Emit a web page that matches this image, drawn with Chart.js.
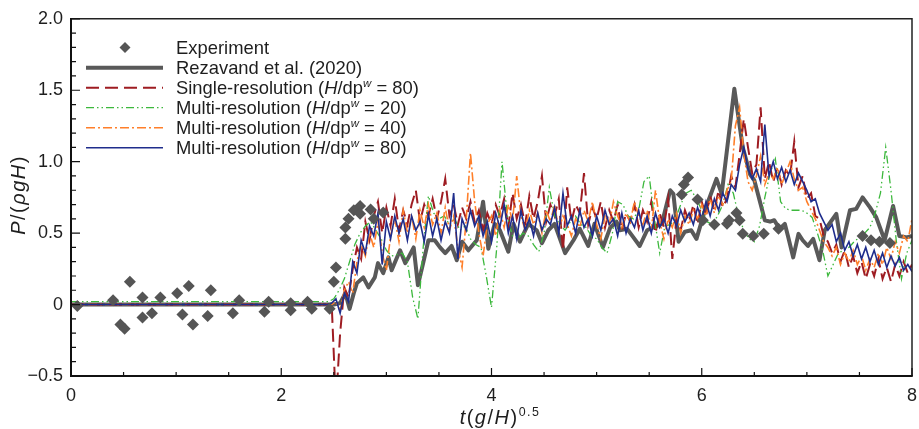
<!DOCTYPE html>
<html>
<head>
<meta charset="utf-8">
<script src="https://cdn.jsdelivr.net/npm/chart.js@4.4.1/dist/chart.umd.min.js"></script>
<style>
  html, body { margin: 0; padding: 0; background: #fff; }
  #wrap { width: 919px; height: 429px; }
</style>
</head>
<body>
<div id="wrap"><canvas id="pressureChart" width="919" height="429"></canvas></div>
<script>
// values: t(g/H)^0.5 on x, P/(rho g H) on y

// experiment (diamonds)
const expT = [0.06, 0.40, 0.47, 0.51, 0.56, 0.68, 0.68, 0.77, 0.85, 1.01, 1.06, 1.12, 1.16, 1.30, 1.33,
  1.54, 1.60, 1.84, 1.88, 2.09, 2.09, 2.25, 2.29, 2.46, 2.50, 2.52, 2.61, 2.61, 2.64, 2.69, 2.75, 2.75,
  2.85, 2.88, 2.97, 5.81, 5.83, 5.87, 5.96, 6.01, 6.12, 6.24, 6.26, 6.33, 6.36, 6.39, 6.49, 6.59, 6.73,
  7.53, 7.61, 7.69, 7.79]
const expP = [-0.01, 0.03, -0.14, -0.17, 0.16, 0.05, -0.09, -0.06, 0.05, 0.08, -0.07, 0.13, -0.14, -0.08, 0.10,
  -0.06, 0.03, -0.05, 0.02, 0.01, -0.04, 0.02, -0.03, -0.03, 0.16, 0.26, 0.46, 0.54, 0.60, 0.66, 0.69, 0.635,
  0.665, 0.60, 0.645, 0.77, 0.84, 0.89, 0.735, 0.59, 0.56, 0.565, 0.59, 0.64, 0.59, 0.495, 0.48, 0.495, 0.53,
  0.48, 0.45, 0.44, 0.43]

// Rezavand et al. (2020)
const rezT = [0, 2.50, 2.56, 2.61, 2.65, 2.69, 2.72, 2.78, 2.83, 2.89, 2.92, 2.97, 3.02, 3.05, 3.13, 3.18,
  3.21, 3.26, 3.30, 3.35, 3.40, 3.46, 3.51, 3.56, 3.62, 3.67, 3.72, 3.78, 3.86, 3.92, 3.97, 4.03, 4.08,
  4.16, 4.21, 4.27, 4.35, 4.43, 4.48, 4.54, 4.60, 4.70, 4.78, 4.84, 4.92, 4.98, 5.06, 5.13, 5.19, 5.22,
  5.29, 5.35, 5.41, 5.48, 5.54, 5.62, 5.70, 5.73, 5.78, 5.84, 5.90, 5.95, 6.03, 6.14, 6.19, 6.31, 6.39,
  6.46, 6.50, 6.55, 6.60, 6.65, 6.69, 6.74, 6.79, 6.82, 6.87, 6.92, 6.96, 7.01, 7.06, 7.12, 7.17, 7.28,
  7.33, 7.41, 7.47, 7.53, 7.60, 7.66, 7.74, 7.82, 7.88, 7.95, 8.00]
const rezP = [0, 0, 0.01, 0.08, -0.03, 0.08, 0.15, 0.19, 0.12, 0.19, 0.29, 0.22, 0.33, 0.24, 0.38, 0.29,
  0.33, 0.40, 0.135, 0.29, 0.45, 0.45, 0.40, 0.36, 0.41, 0.31, 0.44, 0.38, 0.45, 0.72, 0.39, 0.565, 0.52,
  0.37, 0.565, 0.44, 0.565, 0.52, 0.43, 0.52, 0.565, 0.36, 0.45, 0.53, 0.41, 0.565, 0.40, 0.54, 0.58, 0.52,
  0.53, 0.47, 0.41, 0.52, 0.54, 0.565, 0.80, 0.775, 0.44, 0.51, 0.52, 0.46, 0.66, 0.88, 0.775, 1.51, 1.10,
  0.91, 0.87, 0.73, 0.59, 0.58, 0.59, 0.53, 0.565, 0.48, 0.33, 0.495, 0.45, 0.41, 0.46, 0.31, 0.52, 0.635,
  0.40, 0.66, 0.67, 0.75, 0.68, 0.61, 0.45, 0.69, 0.48, 0.47, 0.48]

// sampled runs (every 0.04 from t = 2.44, flat zero before)
const fineStart = 2.44
const fineStep = 0.04
const singleRes80 = [
  0.00, 0.00, -0.70, -0.20, 0.12, 0.05, 0.25, 0.40, 0.32, 0.58, 0.45, 0.62, 0.72, 0.50, 0.68, 0.55, 0.74, 0.52, 0.66, 0.56, 0.70, 0.80, 0.58, 0.70, 0.62,
  0.74, 0.60, 0.72, 0.88, 0.62, 0.70, 0.56, 0.68, 0.60, 0.72, 0.58, 0.66, 0.52, 0.64, 0.56, 0.70, 0.62, 0.74, 0.54, 0.78, 0.60, 0.70, 0.56, 0.76, 0.60,
  0.72, 0.90, 0.58, 0.70, 0.62, 0.74, 0.38, 0.82, 0.58, 0.70, 0.64, 0.92, 0.56, 0.68, 0.60, 0.72, 0.54, 0.66, 0.58, 0.70, 0.52, 0.64, 0.58, 0.70, 0.54,
  0.66, 0.58, 0.72, 0.50, 0.64, 0.54, 0.74, 0.32, 0.60, 0.52, 0.66, 0.58, 0.70, 0.56, 0.72, 0.62, 0.76, 0.66, 0.80, 0.68, 0.74, 0.90, 0.82, 1.05, 1.30,
  1.10, 0.92, 0.98, 1.38, 0.88, 1.00, 0.86, 0.96, 0.84, 0.94, 0.90, 1.14, 0.82, 0.90, 0.74, 0.78, 0.62, 0.60, 0.48, 0.44, 0.36, 0.42, 0.30, 0.38, 0.26,
  0.34, 0.22, 0.30, 0.18, 0.28, 0.20, 0.32, 0.18, 0.26, 0.16, 0.28, 0.20, 0.30, 0.22, 0.28]
const multiRes40 = [
  0.00, 0.00, 0.02, -0.04, 0.10, 0.16, 0.08, 0.30, 0.42, 0.34, 0.50, 0.40, 0.58, 0.36, 0.24, 0.48, 0.60, 0.44, 0.66, 0.50, 0.62, 0.46, 0.66, 0.54, 0.70,
  0.56, 0.64, 0.50, 0.68, 0.52, 0.62, 0.40, 0.26, 0.60, 1.06, 0.72, 0.50, 0.34, 0.56, 0.62, 0.48, 0.66, 0.54, 0.70, 0.58, 0.90, 0.62, 0.52, 0.66, 0.56,
  0.64, 0.50, 0.66, 0.58, 0.70, 0.52, 0.62, 0.56, 0.48, 0.60, 0.54, 0.66, 0.58, 0.72, 0.56, 0.46, 0.62, 0.56, 0.72, 0.62, 0.54, 0.64, 0.58, 0.72, 0.62,
  0.56, 0.66, 0.52, 0.80, 0.58, 0.46, 0.60, 0.54, 0.64, 0.50, 0.62, 0.56, 0.66, 0.60, 0.70, 0.62, 0.74, 0.64, 0.76, 0.70, 0.80, 0.86, 1.25, 1.38, 1.06,
  0.86, 0.80, 0.90, 1.04, 0.84, 0.92, 0.88, 0.96, 0.84, 0.92, 1.00, 0.88, 0.80, 0.82, 0.72, 0.66, 0.60, 0.52, 0.44, 0.40, 0.34, 0.40, 0.28, 0.36, 0.30,
  0.38, 0.28, 0.34, 0.24, 0.32, 0.26, 0.36, 0.28, 0.40, 0.32, 0.44, 0.36, 0.48, 0.44, 0.60]
const multiRes80 = [
  0.00, 0.01, 0.04, -0.06, 0.08, 0.02, 0.30, 0.22, 0.45, 0.36, 0.55, 0.48, 0.64, 0.28, 0.58, 0.46, 0.62, 0.50, 0.60, 0.45, 0.62, 0.52, 0.58, 0.44, 0.63,
  0.48, 0.60, 0.45, 0.58, 0.50, 0.78, 0.32, 0.60, 0.52, 0.66, 0.55, 0.62, 0.48, 0.58, 0.44, 0.64, 0.54, 0.70, 0.50, 0.62, 0.46, 0.66, 0.52, 0.60, 0.48,
  0.64, 0.52, 0.60, 0.56, 0.68, 0.50, 0.78, 0.55, 0.62, 0.50, 0.66, 0.54, 0.60, 0.48, 0.62, 0.52, 0.66, 0.56, 0.60, 0.48, 0.64, 0.50, 0.60, 0.54, 0.66,
  0.52, 0.62, 0.50, 0.64, 0.54, 0.60, 0.50, 0.62, 0.55, 0.66, 0.58, 0.64, 0.56, 0.68, 0.60, 0.72, 0.62, 0.74, 0.66, 0.78, 0.72, 0.84, 0.80, 0.98, 1.10,
  0.95, 0.88, 0.95, 0.86, 1.26, 0.90, 1.00, 0.88, 0.96, 0.86, 0.94, 0.84, 0.92, 0.86, 0.80, 0.72, 0.74, 0.64, 0.58, 0.52, 0.56, 0.44, 0.50, 0.38, 0.44,
  0.34, 0.42, 0.32, 0.40, 0.30, 0.38, 0.28, 0.36, 0.26, 0.34, 0.27, 0.33, 0.24, 0.28, 0.23]

// coarse run (every 0.05 from t = 2.45)
const coarseStart = 2.45
const coarseStep = 0.05
const multiRes20 = [
  0.02, 0.04, 0.10, 0.18, 0.30, 0.42, 0.50, 0.55, 0.58, 0.52,
  0.46, 0.38, 0.34, 0.35, 0.36, 0.30, 0.05, -0.10, 0.40, 0.76,
  0.64, 0.60, 0.62, 0.56, 0.60, 0.52, 0.55, 0.46, 0.42, 0.40,
  0.20, -0.02, 0.40, 1.00, 0.62, 0.48, 0.46, 0.50, 0.48, 0.42,
  0.37, 0.50, 0.82, 0.62, 0.56, 0.52, 0.58, 0.62, 0.56, 0.54,
  0.48, 0.46, 0.40, 0.36, 0.50, 0.72, 0.70, 0.62, 0.60, 0.66,
  0.86, 0.90, 0.60, 0.36, 0.55, 0.56, 0.60, 0.70, 0.78, 0.80,
  0.74, 0.66, 0.58, 0.56, 0.62, 0.70, 0.84, 0.78, 0.62, 0.52,
  0.46, 0.44, 0.55, 0.75, 0.92, 1.02, 0.72, 0.67, 0.66, 0.66,
  0.66, 0.64, 0.61, 0.50, 0.38, 0.20, 0.28, 0.36, 0.38, 0.40,
  0.44, 0.47, 0.50, 0.54, 0.64, 0.78, 1.10, 0.80, 0.45, 0.18,
  0.36, 0.45]

const xTickValues = [0, 2, 4, 6, 8]
const xTickLabels = ["0", "2", "4", "6", "8"]
const yTickValues = [-0.5, 0, 0.5, 1.0, 1.5, 2.0]
const yTickLabels = ["\u22120.5", "0", "0.5", "1.0", "1.5", "2.0"]

const FONT = '"Liberation Sans", Arial, Helvetica, sans-serif'
const TEXT = "#1e1e1e"

function pairUp(ts, ps) {
  return ts.map((t, i) => ({ x: t, y: ps[i] }))
}

function sampled(start, step, vals) {
  const pts = [{ x: 0, y: vals[0] }]
  vals.forEach((v, i) => pts.push({ x: Math.round((start + i * step) * 1000) / 1000, y: v }))
  return pts
}

// legend rows: text runs, H italic and w superscript
function hdpRuns(prefix, n) {
  return [
    { t: prefix + " (" },
    { t: "H", it: true },
    { t: "/dp" },
    { t: "w", it: true, sup: true },
    { t: " = " + n + ")" },
  ]
}

const datasets = [
  {
    label: "Experiment",
    data: pairUp(expT, expP),
    showLine: false,
    pointStyle: "rectRot",
    pointRadius: 6,
    pointBackgroundColor: "#555555",
    pointBorderWidth: 0,
    order: 0,
    legendRuns: [{ t: "Experiment" }],
  },
  {
    label: "Rezavand et al. (2020)",
    data: pairUp(rezT, rezP),
    borderColor: "#595959",
    borderWidth: 4,
    borderJoinStyle: "round",
    order: 6,
    legendRuns: [{ t: "Rezavand et al. (2020)" }],
  },
  {
    label: "Single-resolution",
    data: sampled(fineStart, fineStep, singleRes80),
    borderColor: "#9e1c22",
    borderWidth: 2,
    borderDash: [13, 6],
    order: 5,
    legendRuns: hdpRuns("Single-resolution", 80),
  },
  {
    label: "Multi-resolution 20",
    data: sampled(coarseStart, coarseStep, multiRes20),
    borderColor: "#3cb83c",
    borderWidth: 1.3,
    borderDash: [8, 3, 1.5, 3, 1.5, 3],
    order: 4,
    legendRuns: hdpRuns("Multi-resolution", 20),
  },
  {
    label: "Multi-resolution 40",
    data: sampled(fineStart, fineStep, multiRes40),
    borderColor: "#ff7f2a",
    borderWidth: 1.6,
    borderDash: [9, 3, 2, 3],
    order: 3,
    legendRuns: hdpRuns("Multi-resolution", 40),
  },
  {
    label: "Multi-resolution 80",
    data: sampled(fineStart, fineStep, multiRes80),
    borderColor: "#1f2d8c",
    borderWidth: 1.6,
    order: 2,
    legendRuns: hdpRuns("Multi-resolution", 80),
  },
]

function setFont(ctx, r, size) {
  const fs = r.sup ? size * 0.62 : size
  ctx.font = (r.it ? "italic " : "") + fs + "px " + FONT
}

function runsWidth(ctx, runs, size) {
  let w = 0
  runs.forEach((r) => {
    setFont(ctx, r, size)
    w += ctx.measureText(r.t).width
  })
  return w
}

function drawRuns(ctx, runs, x, y, size) {
  let cx = x
  ctx.textAlign = "left"
  ctx.textBaseline = "alphabetic"
  runs.forEach((r) => {
    setFont(ctx, r, size)
    ctx.fillText(r.t, cx, r.sup ? y - size * 0.42 : y)
    cx += ctx.measureText(r.t).width
  })
}

const framePlugin = {
  id: "frameAndLegend",
  afterDraw(chart) {
    const { ctx, chartArea: a, scales } = chart
    const xs = scales.x
    const ys = scales.y
    ctx.save()

    // box round the plot
    ctx.strokeStyle = "#222"
    ctx.lineWidth = 1.5
    ctx.beginPath()
    ctx.moveTo(a.left, a.top)
    ctx.lineTo(a.right, a.top)
    ctx.lineTo(a.right, a.bottom)
    ctx.stroke()
    ctx.strokeStyle = "#111"
    ctx.lineWidth = 2
    ctx.beginPath()
    ctx.moveTo(a.left, a.top - 0.75)
    ctx.lineTo(a.left, a.bottom)
    ctx.lineTo(a.right + 0.75, a.bottom)
    ctx.stroke()

    // inward tick marks
    ctx.lineWidth = 1.2
    ctx.beginPath()
    for (let k = 0; k <= 16; k++) {
      const px = xs.getPixelForValue(k / 2)
      const len = k % 4 === 0 ? 8 : 4
      ctx.moveTo(px, a.bottom)
      ctx.lineTo(px, a.bottom - len)
    }
    for (let k = -5; k <= 20; k++) {
      const py = ys.getPixelForValue(k / 10)
      const len = k % 5 === 0 ? 9 : 5
      ctx.moveTo(a.left, py)
      ctx.lineTo(a.left + len, py)
    }
    ctx.stroke()

    // legend
    const rowY = [47.5, 67.7, 87.7, 107.7, 127.7, 147.7]
    const lineX0 = 86
    const lineX1 = 163
    const textX = 176
    const size = 18.4
    chart.data.datasets.forEach((ds, i) => {
      const y = rowY[i]
      if (ds.showLine === false) {
        const cx = 125
        const r = 5.5
        ctx.fillStyle = ds.pointBackgroundColor
        ctx.beginPath()
        ctx.moveTo(cx, y - r)
        ctx.lineTo(cx + r, y)
        ctx.lineTo(cx, y + r)
        ctx.lineTo(cx - r, y)
        ctx.closePath()
        ctx.fill()
      } else {
        ctx.strokeStyle = ds.borderColor
        ctx.lineWidth = ds.borderWidth
        ctx.setLineDash(ds.borderDash || [])
        ctx.beginPath()
        ctx.moveTo(lineX0, y)
        ctx.lineTo(lineX1, y)
        ctx.stroke()
        ctx.setLineDash([])
      }
      ctx.fillStyle = TEXT
      drawRuns(ctx, ds.legendRuns, textX, y + 6.6, size)
    })

    // axis titles, a little wider set than the tick text
    ctx.fillStyle = TEXT
    ctx.letterSpacing = "1.5px"
    const tsize = 20
    const xRuns = [{ t: "t", it: true }, { t: "(" }, { t: "g", it: true }, { t: "/" }, { t: "H", it: true }, { t: ")" }, { t: "0.5", sup: true }]
    const xw = runsWidth(ctx, xRuns, tsize)
    drawRuns(ctx, xRuns, 500 - xw / 2, 424, tsize)

    const yRuns = [{ t: "P", it: true }, { t: "/(" }, { t: "\u03c1gH", it: true }, { t: ")" }]
    const yw = runsWidth(ctx, yRuns, tsize)
    ctx.translate(25, 195)
    ctx.rotate(-Math.PI / 2)
    drawRuns(ctx, yRuns, -yw / 2, 0, tsize)

    ctx.restore()
  },
}

new Chart(document.getElementById("pressureChart"), {
  type: "line",
  data: { datasets },
  options: {
    responsive: false,
    animation: false,
    events: [],
    parsing: false,
    elements: {
      point: { radius: 0 },
      line: { tension: 0, fill: false },
    },
    layout: { padding: { top: 16, right: 7, left: 0, bottom: 0 } },
    plugins: {
      legend: { display: false },
      tooltip: { enabled: false },
    },
    scales: {
      x: {
        type: "linear",
        min: 0,
        max: 8,
        grid: { display: false, drawTicks: false },
        border: { display: false },
        afterBuildTicks: (s) => { s.ticks = xTickValues.map((v) => ({ value: v })) },
        ticks: {
          padding: 9,
          color: TEXT,
          font: { family: FONT, size: 18 },
          maxRotation: 0,
          callback: (v) => xTickLabels[xTickValues.indexOf(v)],
        },
        afterFit: (s) => {
          s.height = 53
          s.paddingLeft = 0
          s.paddingRight = 0
        },
      },
      y: {
        min: -0.5,
        max: 2,
        grid: { display: false, drawTicks: false },
        border: { display: false },
        afterBuildTicks: (s) => { s.ticks = yTickValues.map((v) => ({ value: v })) },
        ticks: {
          padding: 8,
          color: TEXT,
          font: { family: FONT, size: 18 },
          callback: (v) => yTickLabels[yTickValues.indexOf(v)],
        },
        afterFit: (s) => { s.width = 71 },
      },
    },
  },
  plugins: [framePlugin],
})
</script>
</body>
</html>
